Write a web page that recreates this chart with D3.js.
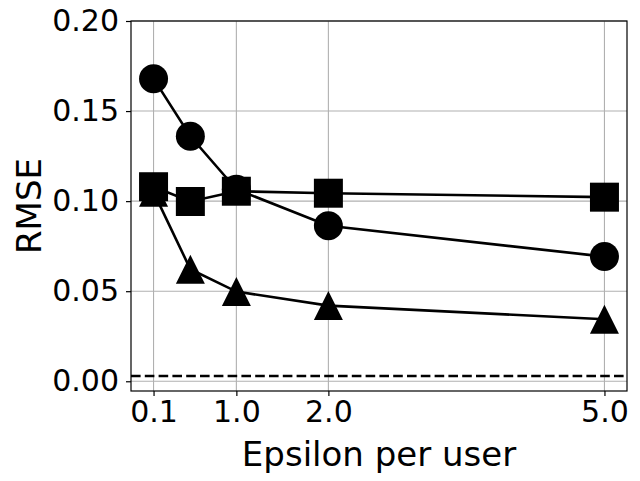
<!DOCTYPE html>
<html>
<head>
<meta charset="utf-8">
<script src="https://cdn.jsdelivr.net/npm/d3@7"></script>
<style>
  body { margin: 0; background: #fff; }
  svg { display: block; font-family: "DejaVu Sans", sans-serif; }
</style>
</head>
<body>
<svg class="chart"></svg>
<script>
// values
var epsilons = [0.1, 0.5, 1.0, 2.0, 5.0];
var xTicks = [0.1, 1.0, 2.0, 5.0];
var yTicks = [0.00, 0.05, 0.10, 0.15, 0.20];
var circleRmse = [0.168, 0.136, 0.1066, 0.0863, 0.0692];
var squareRmse = [0.108, 0.0998, 0.1055, 0.1044, 0.1022];
var triangleRmse = [0.105, 0.0622, 0.0498, 0.042, 0.0344];
var baselineRmse = 0.0029;

var margin = { top: 21, bottom: 90, right: 13, left: 131 },
    width = 640 - margin.left - margin.right,
    height = 481 - margin.top - margin.bottom;

var svg = d3.select(".chart")
    .attr("width", 640)
    .attr("height", 481);

var chart = svg.append("g")
    .attr("transform", "translate(" + margin.left + "," + margin.top + ")");

var x = d3.scaleLinear().domain([-0.145, 5.245]).range([0, width]);
var y = d3.scaleLinear().domain([-0.0054, 0.2]).range([height, 0]);

// grid
chart.append("g").selectAll("line").data(xTicks).enter().append("line")
    .attr("x1", function(d) { return x(d); })
    .attr("x2", function(d) { return x(d); })
    .attr("y1", 0).attr("y2", height)
    .attr("stroke", "#b0b0b0").attr("stroke-width", 1.1);
chart.append("g").selectAll("line").data(yTicks).enter().append("line")
    .attr("y1", function(d) { return y(d); })
    .attr("y2", function(d) { return y(d); })
    .attr("x1", 0).attr("x2", width)
    .attr("stroke", "#b0b0b0").attr("stroke-width", 1.1);

// axes
var xAxis = chart.append("g")
    .attr("transform", "translate(0," + height + ")")
    .call(d3.axisBottom(x).tickValues(xTicks).tickFormat(d3.format(".1f"))
        .tickSize(5).tickPadding(5));
var yAxis = chart.append("g")
    .call(d3.axisLeft(y).tickValues(yTicks).tickFormat(d3.format(".2f"))
        .tickSize(5).tickPadding(7));
[xAxis, yAxis].forEach(function(a) {
    a.select(".domain").remove();
    a.selectAll("line").attr("stroke", "#000").attr("stroke-width", 1.2);
    a.selectAll("text").attr("font-size", "30px").attr("fill", "#000")
        .attr("font-family", "DejaVu Sans");
});

// dashed reference
chart.append("line")
    .attr("x1", 0).attr("x2", width)
    .attr("y1", y(baselineRmse)).attr("y2", y(baselineRmse))
    .attr("stroke", "#000").attr("stroke-width", 2.6)
    .attr("stroke-dasharray", "9.6,4.2");

var line = d3.line()
    .x(function(d, i) { return x(epsilons[i]); })
    .y(function(d) { return y(d); });

var series = [
    { values: circleRmse, symbol: d3.symbolCircle, area: Math.PI * 14.5 * 14.5 },
    { values: squareRmse, symbol: d3.symbolSquare, area: 29 * 29 },
    { values: triangleRmse, symbol: "tri", area: 0 }
];

series.forEach(function(s) {
    chart.append("path")
        .datum(s.values)
        .attr("d", line)
        .attr("fill", "none")
        .attr("stroke", "#000")
        .attr("stroke-width", 2.6);

    var g = chart.append("g");
    s.values.forEach(function(v, i) {
        var p = g.append("path")
            .attr("transform", "translate(" + x(epsilons[i]) + "," + y(v) + ")")
            .attr("fill", "#000");
        if (s.symbol === "tri") {
            // matplotlib '^': bbox centred on the point
            p.attr("d", "M0,-14.5L14.5,14.5L-14.5,14.5Z");
        } else {
            p.attr("d", d3.symbol().type(s.symbol).size(s.area)());
        }
    });
});

// frame
chart.append("rect")
    .attr("width", width).attr("height", height)
    .attr("fill", "none").attr("stroke", "#000").attr("stroke-width", 1.2);

// labels
svg.append("text")
    .attr("x", margin.left + width / 2)
    .attr("y", 466)
    .attr("text-anchor", "middle")
    .attr("font-size", "34px")
    .text("Epsilon per user");

svg.append("text")
    .attr("transform", "translate(41," + (margin.top + height / 2) + ") rotate(-90)")
    .attr("text-anchor", "middle")
    .attr("font-size", "34px")
    .text("RMSE");
</script>
</body>
</html>
